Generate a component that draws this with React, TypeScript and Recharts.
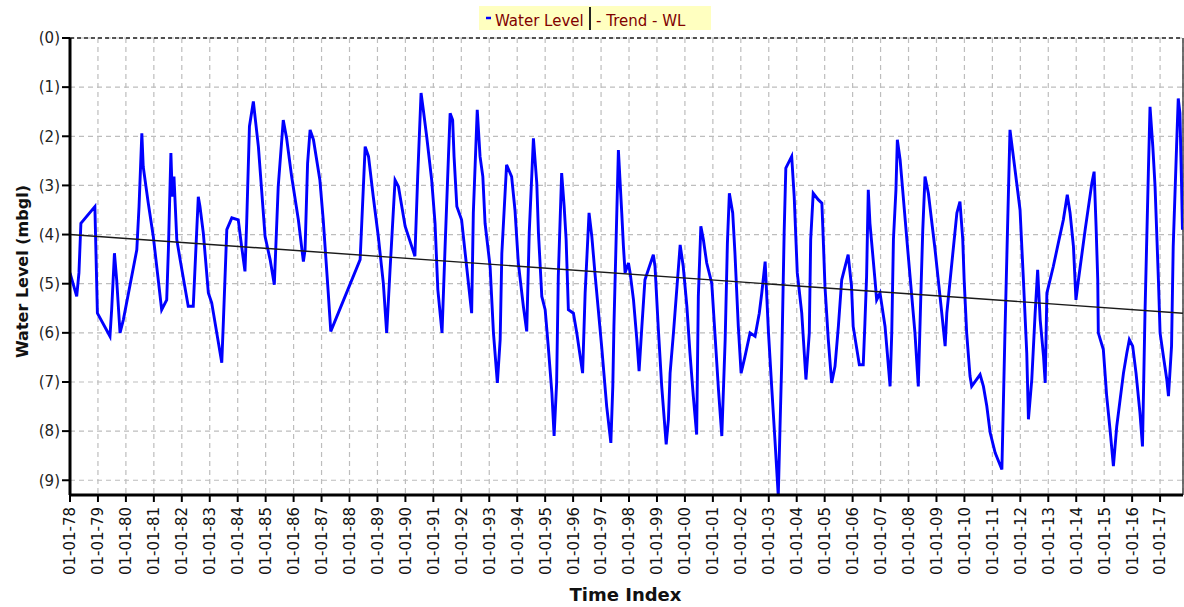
import {
  LineChart,
  Line,
  XAxis,
  YAxis,
  CartesianGrid,
  ReferenceLine,
  Legend,
} from "recharts";

const FONT = "'DejaVu Sans', Verdana, sans-serif";

const sampleYears = [
  1978.0, 1978.24, 1978.32, 1978.39, 1978.89, 1978.98, 1979.43, 1979.49, 1979.59, 1979.67,
  1979.79, 1979.91, 1980.39, 1980.47, 1980.57, 1980.62, 1980.8, 1980.98, 1981.28, 1981.46,
  1981.52, 1981.61, 1981.66, 1981.72, 1981.82, 1981.94, 1982.23, 1982.41, 1982.53, 1982.59,
  1982.65, 1982.77, 1982.95, 1983.07, 1983.43, 1983.49, 1983.61, 1983.79, 1984.02, 1984.14,
  1984.26, 1984.32, 1984.42, 1984.56, 1984.62, 1984.74, 1984.98, 1985.16, 1985.31, 1985.45,
  1985.63, 1985.75, 1985.93, 1986.17, 1986.35, 1986.41, 1986.5, 1986.59, 1986.71, 1986.94,
  1987.06, 1987.24, 1987.33, 1988.38, 1988.56, 1988.68, 1988.85, 1989.03, 1989.21, 1989.33,
  1989.45, 1989.63, 1989.75, 1989.99, 1990.34, 1990.44, 1990.56, 1990.64, 1990.76, 1990.94,
  1991.06, 1991.16, 1991.31, 1991.42, 1991.54, 1991.6, 1991.69, 1991.74, 1991.84, 1992.01,
  1992.19, 1992.37, 1992.43, 1992.57, 1992.67, 1992.77, 1992.85, 1993.03, 1993.15, 1993.29,
  1993.39, 1993.45, 1993.62, 1993.8, 1993.92, 1994.04, 1994.22, 1994.34, 1994.43, 1994.58,
  1994.7, 1994.76, 1994.88, 1995.0, 1995.11, 1995.24, 1995.32, 1995.41, 1995.47, 1995.59,
  1995.68, 1995.75, 1995.83, 1996.01, 1996.13, 1996.34, 1996.43, 1996.57, 1996.67, 1996.78,
  1997.02, 1997.2, 1997.35, 1997.42, 1997.46, 1997.62, 1997.74, 1997.8, 1997.86, 1997.98,
  1998.04, 1998.16, 1998.28, 1998.36, 1998.46, 1998.57, 1998.87, 1998.93, 1999.05, 1999.17,
  1999.33, 1999.41, 1999.47, 1999.59, 1999.83, 1999.94, 2000.07, 2000.18, 2000.3, 2000.42,
  2000.48, 2000.57, 2000.66, 2000.78, 2000.96, 2001.08, 2001.2, 2001.32, 2001.44, 2001.52,
  2001.59, 2001.71, 2001.79, 2001.91, 2002.01, 2002.15, 2002.33, 2002.51, 2002.66, 2002.75,
  2002.87, 2002.99, 2003.11, 2003.22, 2003.34, 2003.4, 2003.46, 2003.55, 2003.61, 2003.82,
  2003.91, 2004.02, 2004.18, 2004.33, 2004.45, 2004.5, 2004.59, 2004.77, 2004.9, 2004.95,
  2005.01, 2005.13, 2005.25, 2005.37, 2005.49, 2005.61, 2005.84, 2005.96, 2006.02, 2006.24,
  2006.38, 2006.44, 2006.5, 2006.56, 2006.62, 2006.8, 2006.86, 2006.98, 2007.16, 2007.24,
  2007.34, 2007.4, 2007.46, 2007.55, 2007.6, 2007.7, 2007.94, 2008.23, 2008.35, 2008.45,
  2008.51, 2008.59, 2008.71, 2008.95, 2009.19, 2009.31, 2009.37, 2009.73, 2009.84, 2009.94,
  2009.99, 2010.08, 2010.2, 2010.26, 2010.56, 2010.68, 2010.8, 2010.92, 2011.1, 2011.34,
  2011.45, 2011.63, 2011.75, 2011.87, 2011.99, 2012.11, 2012.23, 2012.29, 2012.41, 2012.53,
  2012.62, 2012.71, 2012.83, 2012.89, 2012.95, 2013.18, 2013.36, 2013.54, 2013.68, 2013.78,
  2013.9, 2013.99, 2014.08, 2014.32, 2014.56, 2014.64, 2014.71, 2014.77, 2014.79, 2014.97,
  2015.09, 2015.21, 2015.33, 2015.45, 2015.57, 2015.69, 2015.81, 2015.9, 2016.02, 2016.14,
  2016.28, 2016.37, 2016.46, 2016.58, 2016.64, 2016.74, 2016.82, 2016.94, 2017.0, 2017.12,
  2017.24, 2017.3, 2017.41, 2017.47, 2017.59, 2017.65, 2017.71, 2017.77, 2017.8,
];

// water level below ground (m)
const waterLevels = [
  4.78, 5.26, 4.78, 3.77, 3.43, 5.6, 6.07, 5.53, 4.38, 4.92,
  6.0, 5.73, 4.31, 3.43, 1.94, 2.62, 3.36, 4.04, 5.53, 5.33,
  4.31, 2.34, 3.23, 2.82, 4.1, 4.51, 5.46, 5.46, 3.97, 3.23,
  3.43, 3.97, 5.19, 5.39, 6.61, 5.73, 3.9, 3.66, 3.7, 4.24,
  4.75, 3.77, 1.8, 1.29, 1.6, 2.21, 4.04, 4.51, 5.02, 3.02,
  1.67, 2.04, 2.82, 3.7, 4.55, 4.31, 2.55, 1.87, 2.07, 2.89,
  3.7, 5.19, 5.97, 4.51, 2.21, 2.41, 3.23, 4.04, 4.99, 6.0,
  4.72, 2.89, 3.02, 3.83, 4.44, 2.82, 1.12, 1.46, 2.0, 2.89,
  3.77, 5.12, 6.0, 4.24, 2.41, 1.53, 1.67, 2.41, 3.43, 3.7,
  4.65, 5.6, 3.56, 1.46, 2.41, 2.82, 3.77, 4.65, 6.0, 7.02,
  6.14, 4.38, 2.58, 2.82, 3.5, 4.58, 5.46, 5.97, 3.97, 2.04,
  2.95, 3.97, 5.26, 5.53, 6.27, 7.22, 8.1, 7.02, 4.85, 2.75,
  3.43, 4.1, 5.53, 5.6, 6.0, 6.82, 5.19, 3.56, 4.04, 4.78,
  6.27, 7.49, 8.24, 7.09, 5.87, 2.28, 3.56, 4.24, 4.78, 4.58,
  4.78, 5.33, 6.14, 6.78, 5.87, 4.92, 4.41, 4.65, 5.93, 7.09,
  8.27, 7.76, 6.82, 6.0, 4.21, 4.65, 5.46, 6.41, 7.29, 8.07,
  5.26, 3.83, 4.1, 4.58, 4.99, 6.07, 7.15, 8.1, 6.14, 4.17,
  3.16, 3.56, 4.38, 5.87, 6.82, 6.48, 6.0, 6.07, 5.6, 5.19,
  4.55, 6.0, 7.15, 8.17, 9.32, 7.97, 6.68, 3.97, 2.65, 2.41,
  3.23, 4.78, 5.6, 6.95, 6.0, 4.1, 3.16, 3.29, 3.36, 4.1,
  5.05, 6.14, 7.02, 6.68, 5.87, 4.92, 4.41, 5.05, 5.87, 6.65,
  6.65, 5.8, 4.85, 3.09, 3.77, 4.92, 5.33, 5.19, 5.87, 6.41,
  7.09, 6.0, 4.1, 3.09, 2.07, 2.48, 4.1, 6.0, 7.09, 5.05,
  3.9, 2.82, 3.16, 4.31, 5.6, 6.27, 5.6, 3.56, 3.33, 4.1,
  4.92, 6.0, 6.88, 7.09, 6.85, 7.09, 7.49, 8.03, 8.44, 8.78,
  6.0, 1.87, 2.41, 2.95, 3.5, 4.92, 6.41, 7.76, 6.95, 5.6,
  4.72, 5.73, 6.48, 7.02, 5.19, 4.65, 4.17, 3.7, 3.19, 3.56,
  4.24, 5.33, 4.92, 3.9, 2.95, 2.72, 3.83, 4.92, 6.0, 6.34,
  7.29, 7.97, 8.71, 7.9, 7.36, 6.82, 6.41, 6.14, 6.27, 6.82,
  7.63, 8.31, 5.6, 2.75, 1.4, 2.21, 3.02, 4.92, 6.0, 6.48,
  6.95, 7.29, 6.27, 4.24, 2.21, 1.23, 1.53, 3.02, 3.9,
];

const trendYears = [1978, 2017.82];
const trendLevels = [4.0, 5.6];

const tickYears = [
  1978, 1979, 1980, 1981, 1982, 1983, 1984, 1985, 1986, 1987,
  1988, 1989, 1990, 1991, 1992, 1993, 1994, 1995, 1996, 1997,
  1998, 1999, 2000, 2001, 2002, 2003, 2004, 2005, 2006, 2007,
  2008, 2009, 2010, 2011, 2012, 2013, 2014, 2015, 2016, 2017,
];
const tickLabels = tickYears.map((y) => "01-01-" + String(y).slice(2));

const levelTicks = [0, 1, 2, 3, 4, 5, 6, 7, 8, 9];
const minorLevelTicks = [
  0.25, 0.5, 0.75, 1.25, 1.5, 1.75, 2.25, 2.5, 2.75, 3.25, 3.5, 3.75,
  4.25, 4.5, 4.75, 5.25, 5.5, 5.75, 6.25, 6.5, 6.75, 7.25, 7.5, 7.75,
  8.25, 8.5, 8.75, 9.25,
];

const levelRows = sampleYears.map((t, i) => ({ t, wl: waterLevels[i] }));
const trendRows = trendYears.map((t, i) => ({ t, trend: trendLevels[i] }));

function YearTick({ x, y, payload }: any) {
  const label = tickLabels[tickYears.indexOf(payload.value)];
  return (
    <g transform={`translate(${x},${y})`}>
      <text
        transform="rotate(-90)"
        x={-3}
        y={0}
        dy="0.36em"
        textAnchor="end"
        fill="#111"
        fontSize={15}
        fontFamily={FONT}
      >
        {label}
      </text>
    </g>
  );
}

function LevelTitle({ viewBox }: any) {
  const cx = viewBox.x + 28;
  const cy = viewBox.y + viewBox.height / 2 + 5;
  return (
    <text
      x={cx}
      y={cy}
      transform={`rotate(-90 ${cx} ${cy})`}
      textAnchor="middle"
      fontWeight="bold"
      fontSize={16}
      fontFamily={FONT}
      fill="#111"
    >
      Water Level (mbgl)
    </text>
  );
}

function TimeTitle({ viewBox }: any) {
  return (
    <text
      x={viewBox.x + viewBox.width / 2 - 1}
      y={viewBox.y + 106}
      textAnchor="middle"
      fontWeight="bold"
      fontSize={18}
      fontFamily={FONT}
      fill="#111"
    >
      Time Index
    </text>
  );
}

function LegendBox() {
  return (
    <svg width={232} height={24} style={{ display: "block" }}>
      <rect x={0} y={0} width={232} height={24} fill="#ffffc0" />
      <line x1={7} x2={12} y1={12} y2={12} stroke="#0000ff" strokeWidth={2.5} />
      <text x={16} y={20} fill="#800000" fontSize={15} fontFamily={FONT}>
        Water Level
      </text>
      <line x1={111} x2={111} y1={1} y2={24} stroke="#222" strokeWidth={2} />
      <text x={117} y={20} fill="#800000" fontSize={15} fontFamily={FONT}>
        - Trend - WL
      </text>
    </svg>
  );
}

export default function App() {
  return (
    <div style={{ width: 1184, height: 607 }}>
      <style>{"html,body{margin:0;overflow:hidden;background:#fff}"}</style>
      <LineChart
        width={1184}
        height={607}
        margin={{ top: 38, right: 1, left: 0, bottom: 0 }}
      >
        <CartesianGrid stroke="#bdbdbd" strokeDasharray="5 4" strokeWidth={1.2} />
        <XAxis
          dataKey="t"
          type="number"
          domain={[1978, 2017.82]}
          ticks={tickYears}
          interval={0}
          allowDataOverflow
          height={112}
          tickSize={7}
          tickLine={{ stroke: "#000", strokeWidth: 2 }}
          axisLine={{ stroke: "#000", strokeWidth: 3 }}
          tick={<YearTick />}
          label={<TimeTitle />}
        />
        <YAxis
          type="number"
          domain={[0, 9.3]}
          reversed
          allowDataOverflow
          ticks={levelTicks}
          interval={0}
          width={70}
          tickSize={8}
          tickFormatter={(v: number) => `(${v})`}
          tick={{ fill: "#222", fontSize: 15, fontFamily: FONT }}
          tickLine={{ stroke: "#000", strokeWidth: 2 }}
          axisLine={{ stroke: "#000", strokeWidth: 3 }}
          label={<LevelTitle />}
        />
        <YAxis
          yAxisId="minor"
          orientation="left"
          mirror
          type="number"
          domain={[0, 9.3]}
          reversed
          allowDataOverflow
          ticks={minorLevelTicks}
          interval={0}
          width={0}
          tick={false}
          axisLine={false}
          tickSize={-3}
          tickLine={{ stroke: "#e6e600", strokeWidth: 2 }}
        />
        <ReferenceLine y={0} stroke="#222" strokeDasharray="4 3" strokeWidth={1.5} />
        <ReferenceLine x={2017.82} stroke="#444" strokeWidth={1.5} />
        <Legend
          content={<LegendBox />}
          verticalAlign="middle"
          align="center"
          layout="horizontal"
          wrapperStyle={{ top: 6, left: 479, width: 232, height: 24 }}
        />
        <Line
          data={levelRows}
          dataKey="wl"
          type="linear"
          stroke="#0000ff"
          strokeWidth={2.9}
          dot={false}
          isAnimationActive={false}
        />
        <Line
          data={trendRows}
          dataKey="trend"
          type="linear"
          stroke="#1a1a1a"
          strokeWidth={1.4}
          dot={false}
          isAnimationActive={false}
        />
      </LineChart>
    </div>
  );
}
